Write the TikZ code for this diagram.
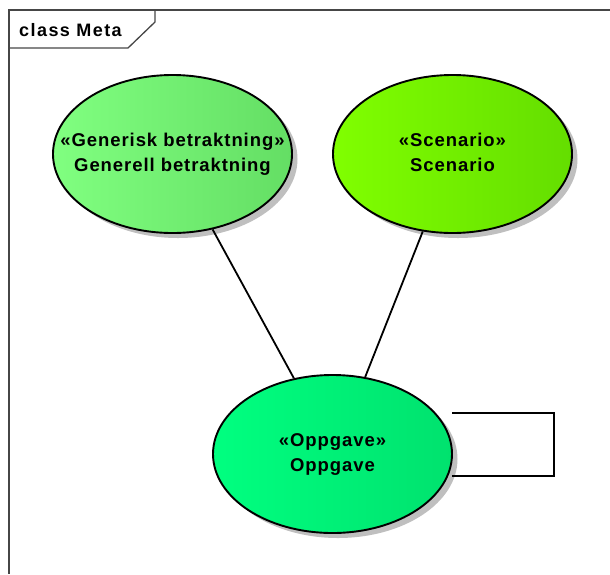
\documentclass[tikz,border=0pt]{standalone}
\usepackage{fontspec}
\setmainfont{Liberation Sans}
\newfontfamily\umlfont[LetterSpace=5]{Liberation Sans}
\newfontfamily\titlefont[LetterSpace=8]{Liberation Sans}
\usetikzlibrary{shapes.geometric}
\definecolor{genL}{RGB}{128,255,128}
\definecolor{genR}{RGB}{100,222,100}
\definecolor{scnL}{RGB}{128,255,0}
\definecolor{scnR}{RGB}{100,222,0}
\definecolor{oppL}{RGB}{0,255,128}
\definecolor{oppR}{RGB}{0,226,110}
\definecolor{frameline}{RGB}{70,70,70}
\newcommand{\ucname}[1]{\makebox[0pt][c]{\begin{tabular}{@{}c@{}}#1\end{tabular}}}
\tikzset{
  usecase/.style={ellipse, draw=black, line width=1.9pt,
    minimum width=239pt, minimum height=158pt, inner sep=0pt,
    font=\umlfont\bfseries\fontsize{18.5}{25}\selectfont},
  shadowcopy/.style={ellipse, fill=black!25, draw=none,
    minimum width=239pt, minimum height=158pt, inner sep=0pt},
  assoc/.style={draw=black, line width=1.8pt},
}
\begin{document}
\begin{tikzpicture}[x=1pt,y=-1pt]
  \useasboundingbox (0,0) rectangle (610,574);
  % diagram frame with its name tab
  \draw[frameline, line width=1.3pt] (610,10) -- (9,10) -- (9,574);
  \draw[frameline, line width=1.3pt] (9,48) -- (128,48) -- (155,22) -- (155,10);
  \node[anchor=base west, font=\titlefont\bfseries\fontsize{18}{20}\selectfont, inner sep=0pt]
    (title) at (19,36) {class Meta};

  % drop shadows
  \node[shadowcopy] at (178,159) {};
  \node[shadowcopy] at (458,159) {};
  \node[shadowcopy] at (338,459) {};

  % use cases
  \node[usecase, left color=genL, middle color=genL!85!genR, right color=genR] (gen) at (172.5,154)
    {\ucname{«Generisk betraktning»\\Generell betraktning}};
  \node[usecase, left color=scnL, middle color=scnL!85!scnR, right color=scnR] (scn) at (452.5,154)
    {\ucname{«Scenario»\\Scenario}};
  \node[usecase, left color=oppL, middle color=oppL!85!oppR, right color=oppR] (opp) at (332.5,454)
    {\ucname{«Oppgave»\\Oppgave}};

  % associations
  \draw[assoc] (gen.-62) -- (opp.117);
  \draw[assoc] (scn.-111) -- (opp.67);
  \coordinate (loopA) at (554,413);
  \coordinate (loopB) at (554,476);
  \draw[assoc] (452,413) -- (loopA) -- (loopB) -- (452,476);
\end{tikzpicture}
\end{document}
